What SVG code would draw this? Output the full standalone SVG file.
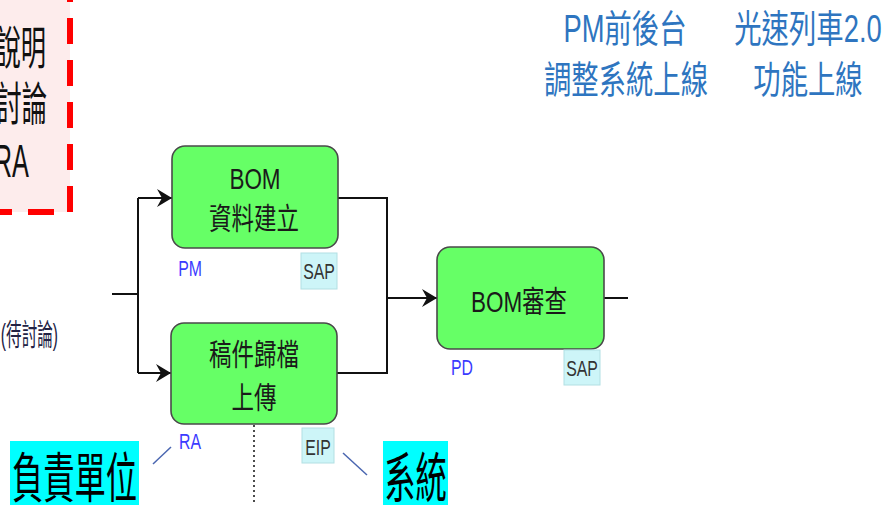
<svg xmlns="http://www.w3.org/2000/svg" width="888" height="505" viewBox="0 0 888 505">
  <style>
    .box { fill: #66ff66; stroke: #4a4a4a; stroke-width: 1.6; }
    .bt { font-family: "Liberation Sans", "Noto Sans CJK TC", sans-serif; font-size: 30px; fill: #1a1a1a; text-anchor: middle; }
    .who { font-family: "Liberation Sans", "Noto Sans CJK TC", sans-serif; font-size: 22px; fill: #3b3bff; text-anchor: middle; }
    .sys { font-family: "Liberation Sans", "Noto Sans CJK TC", sans-serif; font-size: 22px; fill: #333333; text-anchor: middle; }
    .sysbg { fill: #cdf5f8; stroke: #b2dfe3; stroke-width: 1; }
    .conn { fill: none; stroke: #111111; stroke-width: 2; }
    .blue { font-family: "Liberation Sans", "Noto Sans CJK TC", sans-serif; font-size: 38px; fill: #2e75c0; text-anchor: middle; }
    .red { font-family: "Liberation Sans", "Noto Sans CJK TC", sans-serif; font-size: 46px; fill: #111111; text-anchor: end; }
    .big { font-family: "Liberation Sans", "Noto Sans CJK TC", sans-serif; font-size: 54px; fill: #000000; text-anchor: middle; }
    .tick { stroke: #4a66b0; stroke-width: 1.5; }
  </style>
  <defs>
    <marker id="arr" markerUnits="userSpaceOnUse" markerWidth="16" markerHeight="18" refX="15" refY="9" orient="auto">
      <path d="M0,0 L15,9 L0,18 L5,9 Z" fill="#111111"/>
    </marker>
  </defs>
  <rect width="888" height="505" fill="#ffffff"/>

  <!-- red dashed note box (cut off at the left edge) -->
  <g id="note">
    <rect x="-60" y="-60" width="130" height="272" fill="#fdecec" stroke="#ff0000" stroke-width="6" stroke-dasharray="26 16" stroke-dashoffset="2"/>
    <text class="red" transform="translate(46,64) scale(0.55,1)">說明</text>
    <text class="red" transform="translate(47,120) scale(0.55,1)">討論</text>
    <text class="red" transform="translate(29,177) scale(0.55,1)">RA</text>
  </g>

  <text id="pending" transform="translate(58,345) scale(0.52,1)" style="font-family:'Liberation Sans','Noto Sans CJK TC',sans-serif;font-size:30px;fill:#222244;text-anchor:end">(待討論)</text>

  <!-- top-right headings -->
  <g id="heading-pm">
    <text class="blue" transform="translate(625,42) scale(0.72,1)">PM前後台</text>
    <text class="blue" transform="translate(626,93) scale(0.72,1)">調整系統上線</text>
  </g>
  <g id="heading-express">
    <text class="blue" transform="translate(808,42) scale(0.72,1)">光速列車2.0</text>
    <text class="blue" transform="translate(808,93) scale(0.72,1)">功能上線</text>
  </g>

  <!-- connectors -->
  <g id="connectors">
    <path class="conn" d="M112,294 H138"/>
    <path class="conn" d="M138,198 V373"/>
    <path class="conn" d="M138,198 H172" marker-end="url(#arr)"/>
    <path class="conn" d="M138,373 H171" marker-end="url(#arr)"/>
    <path class="conn" d="M338,198 H387 V373 H337"/>
    <path class="conn" d="M387,298 H437" marker-end="url(#arr)"/>
    <path class="conn" d="M604,298 H628"/>
    <path d="M254,425 V505" fill="none" stroke="#111111" stroke-width="1.5" stroke-dasharray="2 3"/>
  </g>

  <!-- node: BOM 資料建立 -->
  <g id="node-bom-create">
    <rect class="box" x="172" y="146" width="166" height="102" rx="13"/>
    <text class="bt" transform="translate(255,189) scale(0.75,1)">BOM</text>
    <text class="bt" transform="translate(254,229) scale(0.75,1)">資料建立</text>
    <text class="who" transform="translate(190,276) scale(0.72,1)">PM</text>
    <rect class="sysbg" x="301" y="253" width="36" height="36"/>
    <text class="sys" transform="translate(319,279) scale(0.72,1)">SAP</text>
  </g>

  <!-- node: 稿件歸檔 上傳 -->
  <g id="node-upload">
    <rect class="box" x="171" y="323" width="166" height="101" rx="13"/>
    <text class="bt" transform="translate(254,365) scale(0.75,1)">稿件歸檔</text>
    <text class="bt" transform="translate(254,408) scale(0.75,1)">上傳</text>
    <text class="who" transform="translate(190,449) scale(0.72,1)">RA</text>
    <rect class="sysbg" x="302" y="428" width="32" height="35"/>
    <text class="sys" transform="translate(318,455) scale(0.72,1)">EIP</text>
  </g>

  <!-- node: BOM審查 -->
  <g id="node-bom-review">
    <rect class="box" x="437" y="247" width="167" height="102" rx="13"/>
    <text class="bt" transform="translate(519,312) scale(0.75,1)">BOM審查</text>
    <text class="who" transform="translate(462,375) scale(0.72,1)">PD</text>
    <rect class="sysbg" x="564" y="350" width="36" height="35"/>
    <text class="sys" transform="translate(582,376) scale(0.72,1)">SAP</text>
  </g>

  <!-- legend callouts -->
  <g id="legend-unit">
    <rect x="10" y="441" width="129" height="70" fill="#00ffff"/>
    <text class="big" transform="translate(74.5,498) scale(0.58,1)">負責單位</text>
    <line class="tick" x1="153" y1="464" x2="171" y2="447"/>
  </g>
  <g id="legend-system">
    <rect x="383" y="441" width="65" height="70" fill="#00ffff"/>
    <text class="big" transform="translate(415.5,498) scale(0.58,1)">系統</text>
    <line class="tick" x1="343" y1="453" x2="367" y2="475"/>
  </g>
</svg>
